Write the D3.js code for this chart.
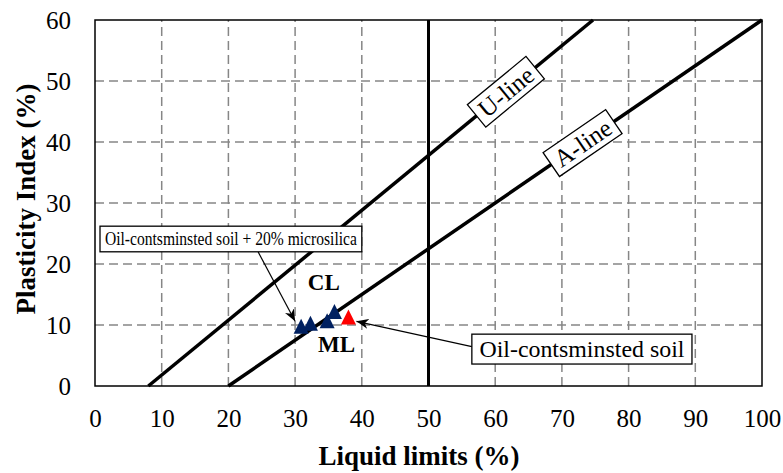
<!DOCTYPE html>
<html>
<head>
<meta charset="utf-8">
<script src="https://cdn.jsdelivr.net/npm/d3@7"></script>
<style>
  html, body { margin: 0; padding: 0; background: #fff; }
  svg { display: block; }
  text { font-family: "Liberation Serif", "Times New Roman", serif; fill: #000; }
</style>
</head>
<body>
<svg id="chart" width="783" height="473"></svg>
<script>
// ---- data ----
const xTicks = [0, 10, 20, 30, 40, 50, 60, 70, 80, 90, 100];
const yTicks = [0, 10, 20, 30, 40, 50, 60];
const uLine = [[8, 0], [74.67, 60]];
const aLine = [[20, 0], [100, 60]];
const vLine = [[50, 0], [50, 60]];
const microsilicaLL = [30.9, 32.3, 34.8, 35.9];
const microsilicaPI = [9.8, 10.3, 10.7, 12.2];
const soilLL = [38.0];
const soilPI = [11.3];
const zoneLabels = [
  { text: "CL", x: 34.3, y: 15.7 },
  { text: "ML", x: 36.2, y: 5.6 }
];
const lineLabels = [
  { text: "U-line", x: 61.6, line: uLine },
  { text: "A-line", x: 73.1, line: aLine }
];
const boxes = [
  { text: "Oil-contsminsted soil + 20% microsilica", x0: 0.75, x1: 40, y0: 22, y1: 26.2, size: 18, tl: 252,
    from: [24.45, 22.0], to: [30.0, 10.6] },
  { text: "Oil-contsminsted soil", x0: 56.5, x1: 89.5, y0: 3.6, y1: 8.5, size: 24, tl: 205,
    from: [56.5, 6.45], to: [39.2, 10.6] }
];

// ---- layout ----
const svg = d3.select("#chart");
const x = d3.scaleLinear().domain([0, 100]).range([95, 762]);
const y = d3.scaleLinear().domain([0, 60]).range([386, 20]);

svg.append("defs").append("marker")
  .attr("id", "arrow").attr("viewBox", "0 0 12 10")
  .attr("refX", 12).attr("refY", 5)
  .attr("markerWidth", 12).attr("markerHeight", 10)
  .attr("markerUnits", "userSpaceOnUse")
  .attr("orient", "auto")
  .append("path").attr("d", "M0,0 L12,5 L0,10 L3.5,5 Z").attr("fill", "#000");

// grid
svg.append("g").selectAll("line").data(xTicks.filter(d => d > 0 && d < 100)).join("line")
  .attr("x1", d => x(d)).attr("x2", d => x(d)).attr("y1", y(0)).attr("y2", y(60))
  .attr("stroke", "#868686").attr("stroke-width", 1.5).attr("stroke-dasharray", "9,5");
svg.append("g").selectAll("line").data(yTicks.filter(d => d > 0 && d < 60)).join("line")
  .attr("x1", x(0)).attr("x2", x(100)).attr("y1", d => y(d)).attr("y2", d => y(d))
  .attr("stroke", "#868686").attr("stroke-width", 1.5).attr("stroke-dasharray", "9,5");

// axes
const xAxis = svg.append("g").attr("transform", `translate(0,${y(0)})`)
  .call(d3.axisBottom(x).tickValues(xTicks).tickSize(0).tickPadding(23));
const yAxis = svg.append("g").attr("transform", `translate(${x(0)},0)`)
  .call(d3.axisLeft(y).tickValues(yTicks).tickSize(0).tickPadding(24));
[xAxis, yAxis].forEach(a => {
  a.select(".domain").remove();
  a.selectAll("text").attr("font-size", 25).attr("fill", "#000");
});

// frame
svg.append("rect").attr("x", x(0)).attr("y", y(60)).attr("width", x(100) - x(0)).attr("height", y(0) - y(60))
  .attr("fill", "none").attr("stroke", "#000").attr("stroke-width", 1.5);

// lines
const lg = d3.line().x(d => x(d[0])).y(d => y(d[1]));
[uLine, aLine, vLine].forEach(l => {
  svg.append("path").attr("d", lg(l)).attr("stroke", "#000")
    .attr("stroke-width", l === vLine ? 3 : 3.5).attr("fill", "none");
});

// line labels
lineLabels.forEach(lb => {
  const [p0, p1] = lb.line;
  const slope = (p1[1] - p0[1]) / (p1[0] - p0[0]);
  const yv = p0[1] + slope * (lb.x - p0[0]);
  const ang = Math.atan2(y(p1[1]) - y(p0[1]), x(p1[0]) - x(p0[0])) * 180 / Math.PI;
  const g = svg.append("g").attr("transform", `translate(${x(lb.x)},${y(yv)}) rotate(${ang})`);
  const t = g.append("text").attr("text-anchor", "middle").attr("dy", "0.35em")
    .attr("font-size", 25).text(lb.text);
  const bb = t.node().getBBox();
  g.insert("rect", "text").attr("x", -bb.width / 2 - 6).attr("y", -14.5)
    .attr("width", bb.width + 12).attr("height", 29)
    .attr("fill", "#fff").attr("stroke", "#000").attr("stroke-width", 1.3);
});

// arrows
boxes.forEach(b => {
  svg.append("line").attr("x1", x(b.from[0])).attr("y1", y(b.from[1]))
    .attr("x2", x(b.to[0])).attr("y2", y(b.to[1]))
    .attr("stroke", "#000").attr("stroke-width", 1.2).attr("marker-end", "url(#arrow)");
});

// markers (triangle, bbox centred on point)
const tri = (cx, cy, s) => `M${cx},${cy - s / 2}L${cx + s / 2},${cy + s / 2}L${cx - s / 2},${cy + s / 2}Z`;
svg.append("g").selectAll("path").data(microsilicaLL.map((d, i) => [d, microsilicaPI[i]])).join("path")
  .attr("d", d => tri(x(d[0]), y(d[1]), 15)).attr("fill", "#002060");
svg.append("g").selectAll("path").data(soilLL.map((d, i) => [d, soilPI[i]])).join("path")
  .attr("d", d => tri(x(d[0]), y(d[1]), 15)).attr("fill", "#ff0000");

// zone labels
svg.append("g").selectAll("text").data(zoneLabels).join("text")
  .attr("x", d => x(d.x)).attr("y", d => y(d.y)).attr("text-anchor", "middle")
  .attr("font-size", 23).attr("font-weight", "bold").text(d => d.text);

// boxes
boxes.forEach(b => {
  svg.append("rect").attr("x", x(b.x0)).attr("y", y(b.y1))
    .attr("width", x(b.x1) - x(b.x0)).attr("height", y(b.y0) - y(b.y1))
    .attr("fill", "#fff").attr("stroke", "#000").attr("stroke-width", 1.3);
  svg.append("text").attr("x", (x(b.x0) + x(b.x1)) / 2).attr("y", (y(b.y0) + y(b.y1)) / 2)
    .attr("dy", "0.35em").attr("text-anchor", "middle").attr("font-size", b.size)
    .attr("textLength", b.tl).attr("lengthAdjust", "spacingAndGlyphs")
    .text(b.text);
});

// axis titles
svg.append("text").attr("x", 419).attr("y", 465).attr("text-anchor", "middle")
  .attr("font-size", 27).attr("font-weight", "bold").text("Liquid limits (%)");
svg.append("text").attr("transform", `translate(35,199) rotate(-90)`)
  .attr("text-anchor", "middle").attr("font-size", 27).attr("font-weight", "bold")
  .text("Plasticity Index (%)");
</script>
</body>
</html>
